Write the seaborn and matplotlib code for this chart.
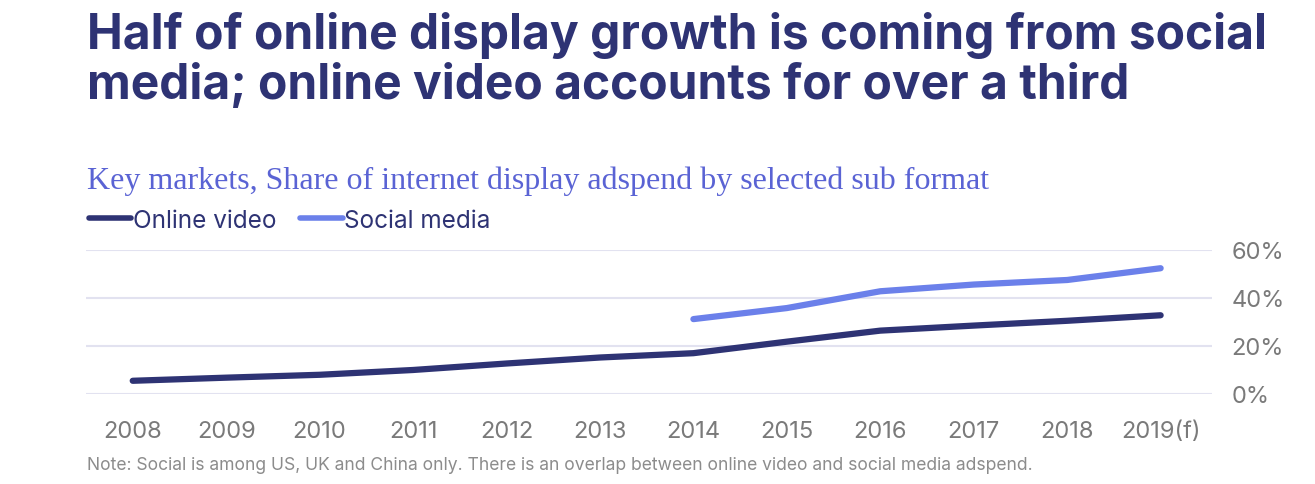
import numpy as np
import pandas as pd
import matplotlib.pyplot as plt
import seaborn as sns
from matplotlib.lines import Line2D

# data (share of internet display adspend, %)
years = ['2008', '2009', '2010', '2011', '2012', '2013', '2014',
         '2015', '2016', '2017', '2018', '2019(f)']
online_video = [5.5, 6.8, 8.0, 10.0, 12.7, 15.2, 17.0, 21.8, 26.4, 28.5, 30.5, 32.8]
social_media = [np.nan, np.nan, np.nan, np.nan, np.nan, np.nan, 31.2, 35.8, 42.8, 45.6, 47.5, 52.4]
y_ticks = [0, 20, 40, 60]

navy = '#2e3374'
light = '#6b80ea'
grey = '#7a7a7a'

df = pd.DataFrame({
    'idx': list(range(len(years))) * 2,
    'value': online_video + social_media,
    'series': ['Online video'] * len(years) + ['Social media'] * len(years),
})

sns.set_theme(style='white')
plt.rcParams['font.family'] = ['Inter', 'DejaVu Sans']

fig = plt.figure(figsize=(13.15, 4.85), dpi=100)
ax = fig.add_axes([0.0654, 0.1856, 0.8563, 0.2969])

sns.lineplot(data=df, x='idx', y='value', hue='series',
             palette={'Online video': navy, 'Social media': light},
             linewidth=4.5, ax=ax, legend=False, solid_capstyle='round')

ax.set_xlim(-0.5, 11.55)
ax.set_ylim(0, 60)
ax.set_xticks(range(len(years)))
ax.set_xticklabels(years)
ax.set_yticks(y_ticks)
ax.set_yticklabels([f'{t}%' for t in y_ticks])
ax.yaxis.tick_right()
ax.tick_params(axis='x', length=0, pad=18.5, labelsize=17, labelcolor=grey)
ax.tick_params(axis='y', length=0, pad=14, labelsize=17, labelcolor=grey)
ax.set_xlabel('')
ax.set_ylabel('')
ax.grid(axis='y', color='#e2e2f0', linewidth=1.5)
ax.set_axisbelow(True)
for s in ax.spines.values():
    s.set_visible(False)

fig.text(0.066, 0.975,
         'Half of online display growth is coming from social\nmedia; online video accounts for over a third',
         fontsize=34.5, fontweight='bold', color=navy, va='top', ha='left', linespacing=1.1)

fig.text(0.066, 0.627, 'Key markets, Share of internet display adspend by selected sub format',
         fontsize=23, color='#5a63d4', va='center', ha='left', family='Liberation Serif')

handles = [Line2D([], [], color=navy, linewidth=4),
           Line2D([], [], color=light, linewidth=4)]
leg = fig.legend(handles, ['Online video', 'Social media'], loc='center left',
                 bbox_to_anchor=(0.0675, 0.544), ncol=2, frameon=False, fontsize=17.5,
                 handlelength=1.75, handletextpad=0.05, columnspacing=1.0, borderaxespad=0,
                 borderpad=0)
for t in leg.get_texts():
    t.set_color(navy)

fig.text(0.066, 0.041,
         'Note: Social is among US, UK and China only. There is an overlap between online video and social media adspend.',
         fontsize=12.6, color='#8c8c8c', va='center', ha='left')

fig.savefig('out.png', dpi=100)
